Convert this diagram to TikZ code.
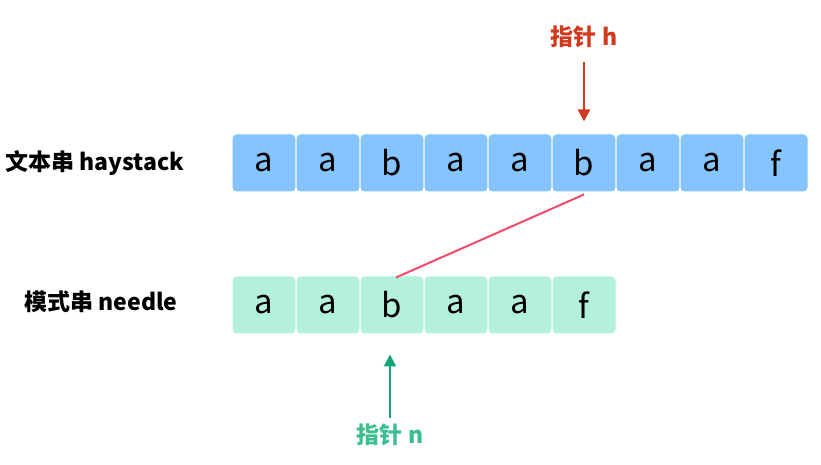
\documentclass[tikz,border=0pt]{standalone}
\usepackage{fontspec}
\setmainfont{Noto Sans CJK SC}
\usetikzlibrary{arrows.meta}
\definecolor{hayblue}{HTML}{85C4FF}
\definecolor{needlegreen}{HTML}{B3F1DC}
\definecolor{ptrred}{HTML}{D23A1F}
\definecolor{linkpink}{HTML}{F24A6B}
\definecolor{ptrgreen}{HTML}{12A47A}
\definecolor{lblgreen}{HTML}{3BBF8E}
\begin{document}
\begin{tikzpicture}[x=1pt, y=1pt]
		\tikzstyle{cell} = [rectangle,rounded corners=4pt,draw=white,line width=1pt,minimum width=64pt,minimum height=58pt,inner sep=0pt,font=\fontsize{33}{33}\selectfont]
		\tikzstyle{label} = [inner sep=0pt,font=\fontsize{23}{23}\selectfont\bfseries]
		\useasboundingbox (0,0) rectangle (821,465);
		\node[label](haylabel)at (95,302){文本串 haystack};
		\node[label](needlelabel)at (101,163){模式串 needle};
		\node[cell,fill=hayblue](h0)at (264,302){a};
		\node[cell,fill=hayblue](h1)at (328,302){a};
		\node[cell,fill=hayblue](h2)at (392,302){b};
		\node[cell,fill=hayblue](h3)at (456,302){a};
		\node[cell,fill=hayblue](h4)at (520,302){a};
		\node[cell,fill=hayblue](h5)at (584,302){b};
		\node[cell,fill=hayblue](h6)at (648,302){a};
		\node[cell,fill=hayblue](h7)at (712,302){a};
		\node[cell,fill=hayblue](h8)at (776,302){f};
		\node[cell,fill=needlegreen](n0)at (264,160){a};
		\node[cell,fill=needlegreen](n1)at (328,160){a};
		\node[cell,fill=needlegreen](n2)at (392,160){b};
		\node[cell,fill=needlegreen](n3)at (456,160){a};
		\node[cell,fill=needlegreen](n4)at (520,160){a};
		\node[cell,fill=needlegreen](n5)at (584,160){f};
		\node[label,text=ptrred](ptrh)at (584,428){指针 h};
		\node[label,text=lblgreen](ptrn)at (390,30){指针 n};
		\coordinate (hstart) at (584,403);
		\coordinate (nstart) at (390,47);
		\path[-{Triangle[width=12pt,length=12pt]},line width=2pt] (hstart) edge[ptrred] ([yshift=12pt]h5.north)
		(nstart) edge[ptrgreen] ([xshift=-2pt,yshift=-20pt]n2.south);
		\path[linkpink,line width=2pt] ([yshift=-2pt]h5.south) edge ([xshift=4pt,yshift=-2pt]n2.north);
		\end{tikzpicture}
\end{document}
